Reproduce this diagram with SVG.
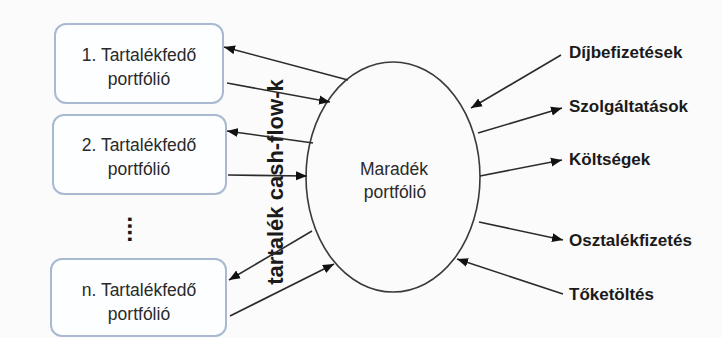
<svg xmlns="http://www.w3.org/2000/svg" width="722" height="338" viewBox="0 0 722 338">
<style>
.box{fill:#fdfeff;stroke:#a9b9d2;stroke-width:2}
.bt{font-family:"Liberation Sans",Arial,sans-serif;font-size:17.5px;fill:#2a2a2a;text-anchor:middle}
.lb{font-family:"Liberation Sans",Arial,sans-serif;font-size:17px;font-weight:bold;fill:#1a1a1a}
.c{stroke:#2b2b2b;stroke-width:1.6;fill:none;marker-end:url(#ah)}
</style>
<defs>
<marker id="ah" markerUnits="userSpaceOnUse" markerWidth="12" markerHeight="10" refX="11" refY="5" orient="auto">
<path d="M0,0.5 L11,5 L0,9.5 Z" fill="#111"/>
</marker>
</defs>
<rect width="722" height="338" fill="#fbfbfb"/>
<g id="box1"><rect class="box" x="55" y="24" width="168" height="79" rx="11"/><text class="bt" x="139" y="61">1. Tartalékfedő</text><text class="bt" x="139" y="85">portfólió</text></g>
<g id="box2"><rect class="box" x="53" y="115" width="173" height="79" rx="11"/><text class="bt" x="139" y="151">2. Tartalékfedő</text><text class="bt" x="139" y="175">portfólió</text></g>
<g id="dots"><text class="lb" style="font-size:24px" transform="translate(128,216) rotate(90)">....</text></g>
<g id="boxn"><rect class="box" x="51" y="259" width="175" height="77" rx="11"/><text class="bt" x="139" y="296">n. Tartalékfedő</text><text class="bt" x="139" y="320">portfólió</text></g>
<g id="maradek"><ellipse cx="393" cy="177" rx="87" ry="115" fill="none" stroke="#3a3a3a" stroke-width="1.6"/><text class="bt" x="394" y="175">Maradék</text><text class="bt" x="395" y="198">portfólió</text></g>
<g id="label-cf"><text class="lb" style="font-size:22px" text-anchor="middle" transform="translate(283,182) rotate(-90)">tartalék cash-flow-k</text></g>
<g id="l-dij"><text class="lb" x="569" y="58">Díjbefizetések</text></g>
<g id="l-szolg"><text class="lb" x="569" y="112">Szolgáltatások</text></g>
<g id="l-kolt"><text class="lb" x="569" y="165">Költségek</text></g>
<g id="l-oszt"><text class="lb" x="569" y="246">Osztalékfizetés</text></g>
<g id="l-toke"><text class="lb" x="569" y="300">Tőketöltés</text></g>
<g id="connectors">
<line class="c" x1="348" y1="80" x2="224" y2="47"/>
<line class="c" x1="227" y1="83" x2="330" y2="102"/>
<line class="c" x1="313" y1="143" x2="227" y2="131"/>
<line class="c" x1="228" y1="175" x2="307" y2="176"/>
<line class="c" x1="312" y1="231" x2="229" y2="280"/>
<line class="c" x1="230" y1="316" x2="334" y2="264"/>
<line class="c" x1="561" y1="55" x2="471" y2="108"/>
<line class="c" x1="478" y1="133" x2="562" y2="108"/>
<line class="c" x1="480" y1="176" x2="562" y2="160"/>
<line class="c" x1="479" y1="222" x2="563" y2="240"/>
<line class="c" x1="563" y1="294" x2="457" y2="259"/>
</g>
</svg>
